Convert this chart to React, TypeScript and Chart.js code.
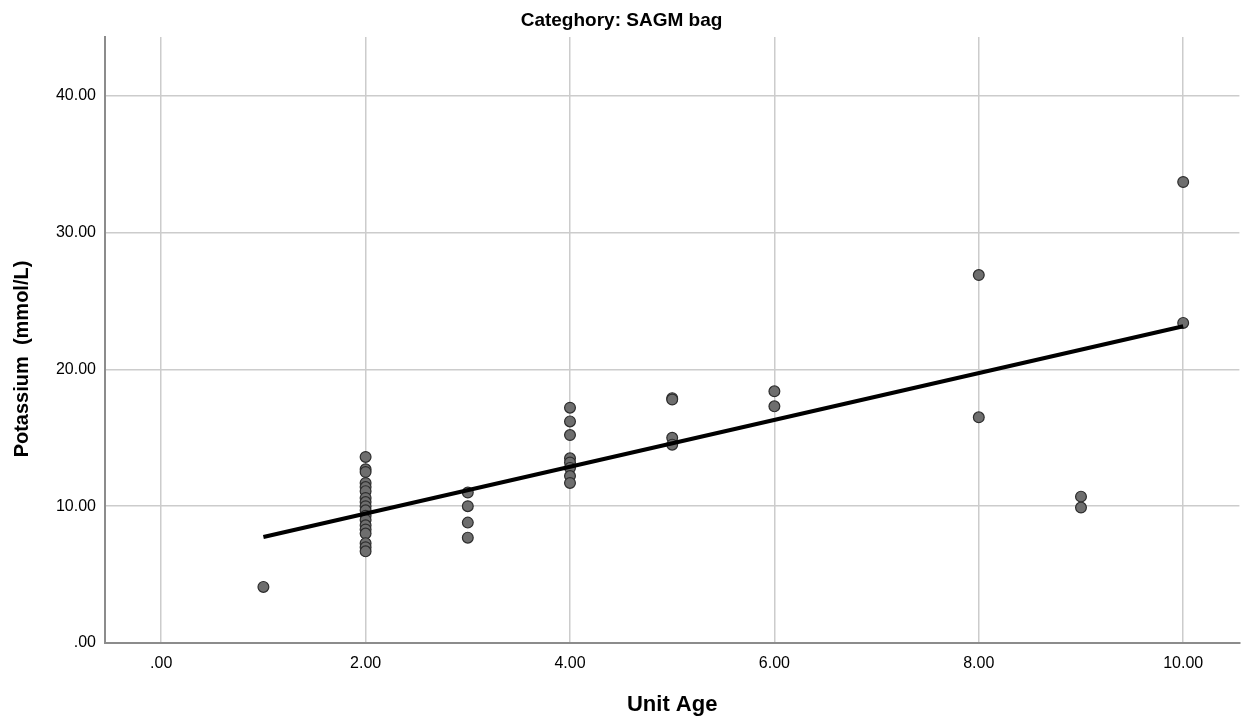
import React, { useEffect, useRef } from "react";
import { Chart, registerables } from "chart.js";

Chart.register(...registerables);

// Unit age categories on the x axis
const unitAges = [1, 2, 3, 4, 5, 6, 8, 9, 10];

// Potassium (mmol/L) observations for each unit age, same order as unitAges
const kAge1 = [4.1];
const kAge2 = [13.6, 12.7, 12.5, 11.7, 11.4, 11.1, 10.6, 10.3, 10.0, 9.7, 9.3, 9.0, 8.6, 8.3, 8.0, 7.3, 7.0, 6.7];
const kAge3 = [11.0, 10.0, 8.8, 7.7];
const kAge4 = [17.2, 16.2, 15.2, 13.5, 13.2, 12.8, 12.2, 11.7];
const kAge5 = [17.9, 17.8, 15.0, 14.5];
const kAge6 = [18.4, 17.3];
const kAge8 = [26.9, 16.5];
const kAge9 = [10.7, 9.9];
const kAge10 = [33.7, 23.4];
const potassiumByAge = [kAge1, kAge2, kAge3, kAge4, kAge5, kAge6, kAge8, kAge9, kAge10];

// Fit line end points (linear regression)
const fitX = [1, 10];
const fitY = [7.75, 23.15];

// Axis ticks
const xTicks = [0, 2, 4, 6, 8, 10];
const yTicks = [0, 10, 20, 30, 40];

const yTitle = "Potassium  (mmol/L)";

const fmt = (v: number) => (v === 0 ? ".00" : v.toFixed(2));

const FONT = "'Liberation Sans', Arial, sans-serif";

const yTitlePlugin = {
  id: "yTitlePlugin",
  afterDraw(chart: any) {
    const ctx = chart.ctx;
    const area = chart.chartArea;
    ctx.save();
    ctx.translate(22, (area.top + area.bottom) / 2 + 19);
    ctx.rotate(-Math.PI / 2);
    ctx.font = `bold 20px ${FONT}`;
    ctx.fillStyle = "#000";
    ctx.textAlign = "center";
    ctx.textBaseline = "middle";
    ctx.fillText(yTitle, 0, 0);
    ctx.restore();
  },
};

export default function App() {
  const ref = useRef<HTMLCanvasElement | null>(null);

  useEffect(() => {
    document.body.style.margin = "0";
    const points: { x: number; y: number }[] = [];
    unitAges.forEach((age, i) => {
      potassiumByAge[i].forEach((k) => points.push({ x: age, y: k }));
    });
    const fit = fitX.map((x, i) => ({ x, y: fitY[i] }));

    const grid = "rgb(204,204,204)";
    const axisColor = "rgb(140,140,140)";

    const chart = new Chart(ref.current!, {
      type: "scatter",
      data: {
        datasets: [
          {
            type: "line",
            data: fit,
            borderColor: "#000",
            borderWidth: 4,
            pointRadius: 0,
            fill: false,
            order: 0,
          } as any,
          {
            type: "scatter",
            data: points,
            backgroundColor: "rgb(110,110,110)",
            borderColor: "rgb(45,45,45)",
            borderWidth: 1.2,
            pointRadius: 5.4,
            order: 1,
          },
        ],
      },
      plugins: [yTitlePlugin],
      options: {
        responsive: false,
        animation: false,
        layout: { padding: { left: 0, right: 3, top: 0, bottom: 0 } },
        plugins: {
          legend: { display: false },
          tooltip: { enabled: false },
          title: {
            display: true,
            text: "Categhory: SAGM bag",
            color: "#000",
            font: { family: FONT, size: 19, weight: "bold" },
            padding: { top: 9, bottom: 5.2 },
          },
        },
        scales: {
          x: {
            type: "linear",
            min: -0.55,
            max: 10.55,
            afterBuildTicks: (scale: any) => {
              scale.ticks = xTicks.map((v) => ({ value: v }));
            },
            afterFit: (scale: any) => {
              scale.height = 79;
            },
            ticks: {
              color: "#000",
              font: { family: FONT, size: 16 },
              padding: 11,
              callback: (v: any) => fmt(Number(v)),
            },
            grid: { color: grid, lineWidth: 1.5, drawTicks: false },
            border: { display: true, color: axisColor, width: 2 },
            title: {
              display: true,
              text: "Unit Age",
              color: "#000",
              font: { family: FONT, size: 22, weight: "bold" },
              padding: { top: 0, bottom: 4 },
            },
          },
          y: {
            type: "linear",
            min: 0,
            max: 44.3,
            afterBuildTicks: (scale: any) => {
              scale.ticks = yTicks.map((v) => ({ value: v }));
            },
            afterFit: (scale: any) => {
              scale.width = 105;
            },
            ticks: {
              color: "#000",
              font: { family: FONT, size: 16 },
              padding: 9,
              callback: (v: any) => fmt(Number(v)),
            },
            grid: { color: grid, lineWidth: 1.5, drawTicks: false },
            border: { display: true, color: axisColor, width: 2 },
            title: { display: false },
          },
        },
      },
    });
    return () => chart.destroy();
  }, []);

  return (
    <div style={{ position: "absolute", left: 0, top: 0, width: 1246, height: 722, background: "#fff" }}>
      <canvas ref={ref} width={1246} height={722} />
    </div>
  );
}
